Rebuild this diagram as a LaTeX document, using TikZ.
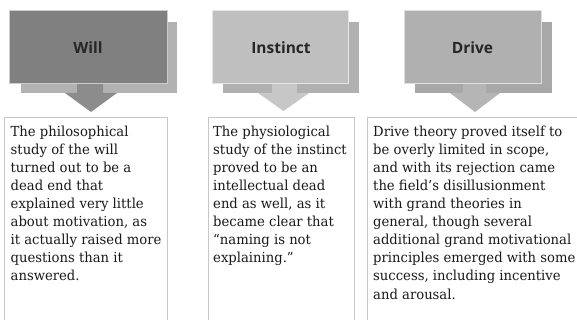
\documentclass[tikz,border=0pt]{standalone}
\usepackage{fontspec}
\setmainfont{DejaVu Serif}
\newfontfamily\headfont{Open Sans}
\newfontfamily\bodyfont[FakeStretch=0.955]{DejaVu Serif}
\begin{document}
\begin{tikzpicture}[x=1pt,y=-1pt,
  backrect/.style={fill=#1, draw=none},
  frontrect/.style={fill=#1, draw=white!60!#1, line width=0.6pt},
  headtext/.style={font=\headfont\bfseries\fontsize{15.5}{18}\selectfont, text=black!85, inner sep=0pt},
  downarrow/.style={fill=#1, draw=none},
  textbox/.style={draw=black!22, line width=0.8pt, fill=white},
  bodytext/.style={font=\bodyfont\fontsize{13.8}{18.1}\selectfont, align=left, anchor=north west, inner sep=0pt, text=black!90}
]
\useasboundingbox (0,0) rectangle (577,320);

% ---- Will ----
\fill[backrect=black!30] (21,22) rectangle (177,93);
\fill[downarrow=black!45] (77,80) -- (103,80) -- (103,93) -- (117,93) -- (91,112) -- (65,93) -- (77,93) -- cycle;
\filldraw[frontrect=black!50] (9,10) rectangle (167,83);
\node[headtext] (will) at (88,48) {Will};
\draw[textbox] (4,117) -- (4,325) (167.5,325) -- (167.5,117) -- (4,117);
\node[bodytext] (willtext) at (10.5,125.5) {The philosophical\\study of the will\\turned out to be a\\dead end that\\explained very little\\about motivation, as\\it actually raised more\\questions than it\\answered.};

% ---- Instinct ----
\fill[backrect=black!31] (223,22) rectangle (359,93);
\fill[downarrow=black!22] (272,80) -- (297,80) -- (297,93) -- (309,93) -- (283.5,111) -- (258,93) -- (272,93) -- cycle;
\filldraw[frontrect=black!25] (212,10) rectangle (348,83);
\node[headtext] (instinct) at (281,48) {Instinct};
\draw[textbox] (208,325) -- (208,117) -- (354,117) -- (354,325);
\node[bodytext] (instincttext) at (213,125.5) {The physiological\\study of the instinct\\proved to be an\\intellectual dead\\end as well, as it\\became clear that\\“naming is not\\explaining.”};

% ---- Drive ----
\fill[backrect=black!34] (415,22) rectangle (552,93);
\fill[downarrow=black!29] (463,80) -- (486,80) -- (486,93) -- (500,93) -- (475,112) -- (450,93) -- (463,93) -- cycle;
\filldraw[frontrect=black!31] (404,10) rectangle (541,83);
\node[headtext] (drive) at (472.5,48) {Drive};
\draw[textbox] (367.5,325) -- (367.5,117) -- (580,117);
\node[bodytext] (drivetext) at (373,125.5) {Drive theory proved itself to\\be overly limited in scope,\\and with its rejection came\\the field’s disillusionment\\with grand theories in\\general, though several\\additional grand motivational\\principles emerged with some\\success, including incentive\\and arousal.};
\end{tikzpicture}
\end{document}
